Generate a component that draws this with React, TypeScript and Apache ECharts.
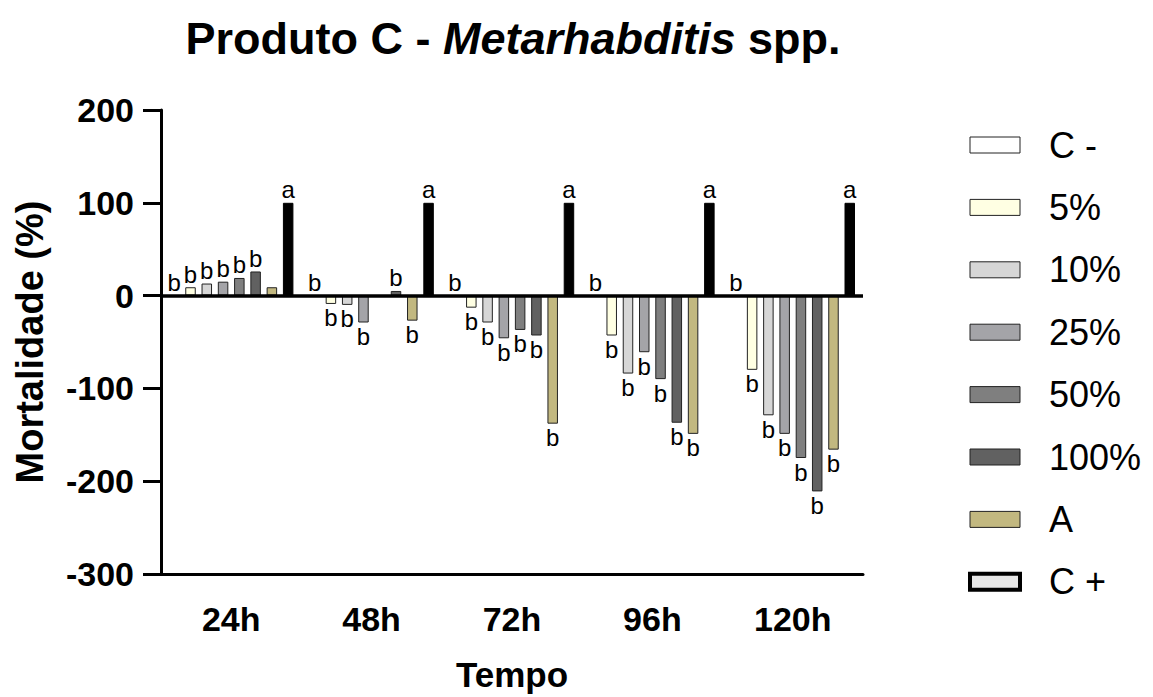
import React, { useEffect, useRef } from "react";
import * as echarts from "echarts";

const categories = ["24h", "48h", "72h", "96h", "120h"];
const seriesNames = ["C -", "5%", "10%", "25%", "50%", "100%", "A", "C +"];

const cNeg = [0, 0, 0, 0, 0];
const p5 = [9, -9, -13, -43, -80];
const p10 = [13, -10, -29, -84, -129];
const p25 = [15, -29, -46, -61, -149];
const p50 = [19, null, -37, -90, -175];
const p100 = [26, 5, -43, -137, -211];
const pA = [9, -27, -138, -149, -166];
const cPos = [100, 100, 100, 100, 100];

const lNeg = ["b", "b", "b", "b", "b"];
const l5 = ["b", "b", "b", "b", "b"];
const l10 = ["b", "b", "b", "b", "b"];
const l25 = ["b", "b", "b", "b", "b"];
const l50 = ["b", "", "b", "b", "b"];
const l100 = ["b", "b", "b", "b", "b"];
const lA = ["", "b", "b", "b", "b"];
const lPos = ["a", "a", "a", "a", "a"];

const values = [cNeg, p5, p10, p25, p50, p100, pA, cPos];
const letters = [lNeg, l5, l10, l25, l50, l100, lA, lPos];
const colors = ["#FFFFFF", "#FFFFE3", "#D6D6D6", "#A4A4A8", "#7F7F7F", "#616161", "#C2B880", "#000000"];

const FONT = "'Liberation Sans', Arial, Helvetica, sans-serif";

export default function App() {
  const ref = useRef<HTMLDivElement>(null);
  useEffect(() => {
    if (!ref.current) return;
    const chart = echarts.init(ref.current, undefined, { renderer: "svg" });
    const series: any[] = seriesNames.map((name, si) => ({
      name,
      type: "bar",
      barWidth: 10.5,
      barGap: "55%",
      itemStyle: {
        color: colors[si],
        borderColor: si === 7 ? "#000" : "#222",
        borderWidth: 1,
      },
      data: values[si].map((v, i) => {
        if (v === null) return { value: null };
        const neg = (v as number) < 0;
        return {
          value: v,
          label: {
            show: letters[si][i] !== "",
            formatter: letters[si][i],
            position: neg ? "bottom" : "top",
            distance: neg ? 2 : 1,
            fontSize: 24,
            color: "#000",
            fontFamily: FONT,
          },
        };
      }),
      ...(si === 7
        ? {
            markLine: {
              silent: true,
              symbol: "none",
              label: { show: false },
              lineStyle: { color: "#000", width: 3.5, type: "solid" },
              data: [{ yAxis: 0 }],
            },
          }
        : {}),
    }));

    chart.setOption({
      animation: false,
      textStyle: { fontFamily: FONT },
      graphic: [
        {
          type: "text",
          x: 513,
          y: 38,
          style: {
            text: "{b|Produto C - }{i|Metarhabditis}{b| spp.}",
            align: "center",
            verticalAlign: "middle",
            rich: {
              b: { fontSize: 45, fontWeight: "bold", fontFamily: FONT, fill: "#000" },
              i: { fontSize: 45, fontWeight: "bold", fontStyle: "italic", fontFamily: FONT, fill: "#000" },
            },
          },
        },
      ],
      legend: {
        orient: "vertical",
        left: 968,
        top: 127,
        padding: 0,
        itemWidth: 50,
        itemHeight: 16,
        itemGap: 26.4,
        icon: "rect",
        textStyle: {
          fontSize: 36,
          lineHeight: 36,
          color: "#000",
          fontFamily: FONT,
          padding: [0, 0, 0, 24],
        },
        data: seriesNames.map((n, i) => ({
          name: n,
          itemStyle:
            i === 7
              ? { color: "#E6E6E6", borderColor: "#000", borderWidth: 4 }
              : { color: colors[i], borderColor: "#222", borderWidth: 1 },
        })),
      },
      grid: { left: 161, right: 290, top: 110, bottom: 122 },
      xAxis: {
        type: "category",
        data: categories,
        name: "Tempo",
        nameLocation: "middle",
        nameGap: 83,
        nameTextStyle: { fontSize: 35, fontWeight: "bold", color: "#000", fontFamily: FONT },
        axisLine: { onZero: false, lineStyle: { color: "#000", width: 3 } },
        axisTick: { alignWithLabel: true, length: 18, lineStyle: { color: "#000", width: 3 } },
        axisLabel: { fontSize: 34, fontWeight: "bold", color: "#000", margin: 28, fontFamily: FONT },
      },
      yAxis: {
        type: "value",
        min: -300,
        max: 200,
        interval: 100,
        name: "Mortalidade (%)",
        nameLocation: "middle",
        nameGap: 112,
        nameTextStyle: { fontSize: 38, fontWeight: "bold", color: "#000", fontFamily: FONT },
        axisLine: { show: true, lineStyle: { color: "#000", width: 3 } },
        axisTick: { show: true, length: 18, lineStyle: { color: "#000", width: 3 } },
        splitLine: { show: false },
        axisLabel: { fontSize: 34, fontWeight: "bold", color: "#000", margin: 27, fontFamily: FONT },
      },
      series,
    });
    return () => chart.dispose();
  }, []);
  return (
    <div
      ref={ref}
      style={{ position: "fixed", left: 0, top: 0, width: 1153, height: 697, background: "#fff" }}
    />
  );
}
